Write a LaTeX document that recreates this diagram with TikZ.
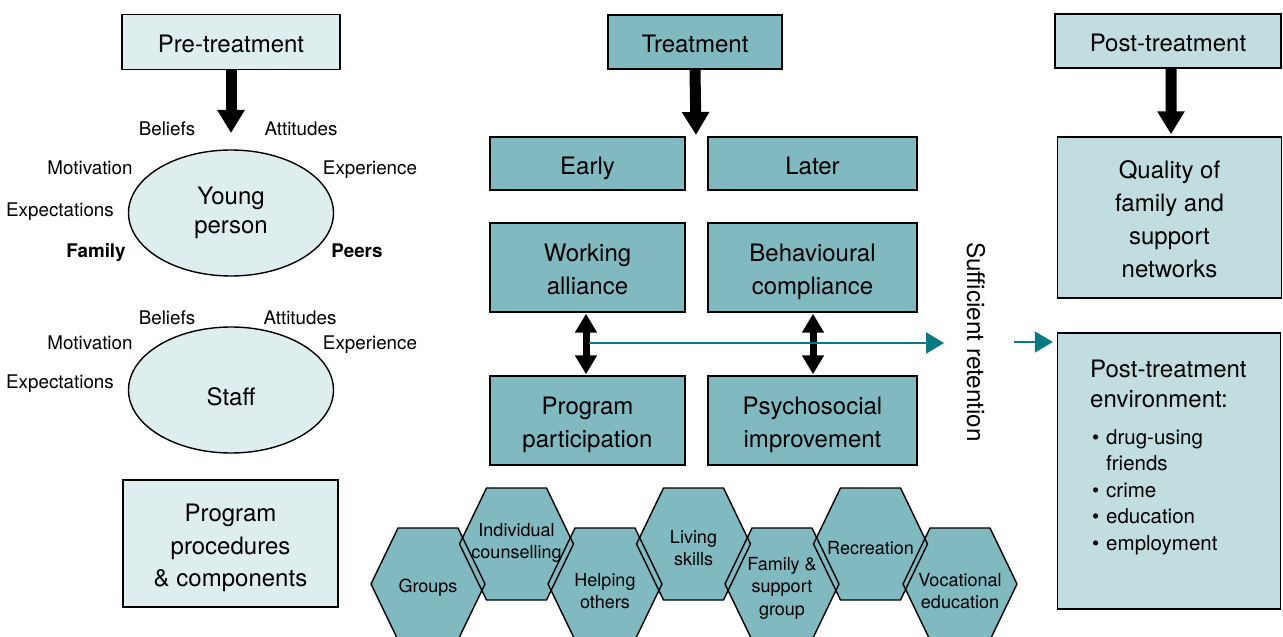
\documentclass[tikz,border=0pt]{standalone}
\usepackage{fontspec}
\setmainfont{TeX Gyre Heros}
\usetikzlibrary{arrows.meta,shapes.geometric}
\definecolor{tealfill}{HTML}{80B9C0}
\definecolor{lightfill}{HTML}{DEEDEE}
\definecolor{postfill}{HTML}{C1DDE0}
\definecolor{arrowteal}{HTML}{0A7A82}
\newcommand\hexcellpath[2]{(#1-57,#2) -- (#1-30,#2-56) -- (#1+30,#2-56) -- (#1+57,#2) -- (#1+30,#2+56) -- (#1-30,#2+56) -- cycle}
\newcommand\boxtext[1]{\raisebox{-4bp}[\height][\depth]{\begin{tabular}{@{}c@{}}#1\end{tabular}}}
\begin{document}
\begin{tikzpicture}[x=1bp,y=-1bp,
 box/.style={draw=black,line width=1.4bp,inner sep=0pt,font=\fontsize{24bp}{33bp}\selectfont},
 tealbox/.style={box,fill=tealfill},
 lightbox/.style={box,fill=lightfill},
 postbox/.style={box,fill=postfill},
 oval/.style={ellipse,draw=black,line width=1.4bp,fill=lightfill,minimum width=205bp,minimum height=126bp,inner sep=0pt,align=center,font=\fontsize{24bp}{29bp}\selectfont},
 lab/.style={inner sep=0pt,anchor=base,font=\fontsize{18.8bp}{21bp}\selectfont},
 blab/.style={lab,font=\fontsize{18.8bp}{21bp}\selectfont\bfseries},
 hexlab/.style={inner sep=0pt,align=center,font=\fontsize{18bp}{22.5bp}\selectfont},
 hexfill/.style={fill=tealfill},
 hexline/.style={draw=black,line width=1.4bp,line join=round},
 bigarrow/.style={line width=11bp,-{Triangle[width=26bp,length=23bp]}},
 dblarrow/.style={line width=7bp,{Triangle[width=21bp,length=19bp]}-{Triangle[width=21bp,length=19bp]}},
 tealarrow/.style={draw=arrowteal,line width=2bp,-{Triangle[width=21bp,length=18bp]}}
]
\useasboundingbox (0,0) rectangle (1283,637);
\fill[white] (0,0) rectangle (1283,637);
\clip (0,0) rectangle (1283,637);

% ---------- left column ----------
\node[lightbox,minimum width=218bp,minimum height=55bp] (pre) at (231,42) {\boxtext{Pre-treatment}};
\coordinate (pretip) at (231,133);
\draw[bigarrow] (pre.south) -- (pretip);

\node[oval] (young) at (231,213) {Young\\person};
\node[lab] (yb) at (167,135.8) {Beliefs};
\node[lab] (ya) at (301,135.8) {Attitudes};
\node[lab] (ym) at (90,174.8) {Motivation};
\node[lab] (ye) at (370,174.8) {Experience};
\node[lab] (yx) at (60,216.8) {Expectations};
\node[blab] (yf) at (96,257.8) {Family};
\node[blab] (yp) at (357,257.8) {Peers};

\node[oval,execute at begin node={\rule{0pt}{37bp}},execute at end node={\rule[-6bp]{0pt}{0pt}}] (staff) at (231,390) {Staff};
\node[lab] (sb) at (167,324.8) {Beliefs};
\node[lab] (sa) at (300,324.8) {Attitudes};
\node[lab] (sm) at (90,349.8) {Motivation};
\node[lab] (se) at (370,349.8) {Experience};
\node[lab] (sx) at (60,388.8) {Expectations};

\node[lightbox,minimum width=215bp,minimum height=127bp,font=\fontsize{24bp}{32.5bp}\selectfont] (proc) at (230.5,543.5) {\boxtext{Program\\procedures\\\& components}};

% ---------- middle column ----------
\node[tealbox,minimum width=174bp,minimum height=54bp] (treat) at (695,42) {\boxtext{Treatment}};
\coordinate (treattip) at (696,135);
\draw[bigarrow] (treat.south) -- (treattip);

\node[tealbox,minimum width=195bp,minimum height=53bp] (early) at (587.5,163.5) {\boxtext{Early}};
\node[tealbox,minimum width=209bp,minimum height=53bp] (later) at (812.5,163.5) {\boxtext{Later}};
\node[tealbox,minimum width=195bp,minimum height=89bp] (work) at (587.5,267.5) {\boxtext{Working\\alliance}};
\node[tealbox,minimum width=209bp,minimum height=89bp] (behav) at (812.5,267.5) {\boxtext{Behavioural\\compliance}};
\node[tealbox,minimum width=195bp,minimum height=89bp] (prog) at (587.5,420.5) {\boxtext{Program\\participation}};
\node[tealbox,minimum width=209bp,minimum height=89bp] (psych) at (812.5,420.5) {\boxtext{Psychosocial\\improvement}};

\draw[dblarrow,shorten <=1bp,shorten >=1bp] ([xshift=-1.5bp]work.south) -- ([xshift=-1.5bp]prog.north);
\draw[dblarrow,shorten <=1bp,shorten >=1bp] ([xshift=0.5bp]behav.south) -- ([xshift=0.5bp]psych.north);

\coordinate (retstart) at (589,343);
\coordinate (retend) at (944,343);
\draw[tealarrow] (retstart) -- (retend);

\node[rotate=-90,inner sep=0pt,font=\fontsize{24.3bp}{28bp}\selectfont] (suff) at (976,342) {Sufficient retention};

% hexagons
\foreach \cx/\cy in {428/584,516.5/544,605/584,693.5/544,782/584,870.5/544,960/584}
  \fill[hexfill] \hexcellpath{\cx}{\cy};
\foreach \cx/\cy in {428/584,516.5/544,605/584,693.5/544,782/584,870.5/544,960/584}
  \draw[hexline] \hexcellpath{\cx}{\cy};
\node[hexlab] (hgroups) at (428,588) {Groups};
\node[hexlab] (hindiv) at (516.5,543) {Individual\\counselling};
\node[hexlab] (hhelp) at (605,591) {Helping\\others};
\node[hexlab] (hliving) at (693.5,548) {Living\\skills};
\node[hexlab] (hfamily) at (782,588) {Family \&\\support\\group};
\node[hexlab] (hrec) at (870.5,548) {Recreation};
\node[hexlab] (hvoc) at (960,591) {Vocational\\education};

% ---------- right column ----------
\node[postbox,minimum width=226bp,minimum height=54bp] (post) at (1168,41) {\boxtext{Post-treatment}};
\node[postbox,minimum width=224bp,minimum height=161bp] (quality) at (1169.5,217.5) {\boxtext{Quality of\\family and\\support\\networks}};
\draw[bigarrow,shorten >=2bp] ([xshift=3bp]post.south) -- ([xshift=1.5bp]quality.north);

\node[draw=black,line width=1.4bp,fill=postfill,minimum width=223bp,minimum height=276bp] (env) at (1169,471) {};
\node[inner sep=0pt,anchor=west,align=left,font=\fontsize{24bp}{30bp}\selectfont] (envhead) at (1090,384) {Post-treatment\\environment:};
\node[inner sep=0pt,anchor=west,align=left,font=\fontsize{20.5bp}{26.5bp}\selectfont] (envlist) at (1092,492) {\makebox[14bp][l]{\textbullet}drug-using\\\hspace*{14bp}friends\\\makebox[14bp][l]{\textbullet}crime\\\makebox[14bp][l]{\textbullet}education\\\makebox[14bp][l]{\textbullet}employment};

\coordinate (retin) at (1014,342);
\draw[tealarrow,shorten >=4bp] (retin) -- (retin -| env.west);
\end{tikzpicture}
\end{document}
